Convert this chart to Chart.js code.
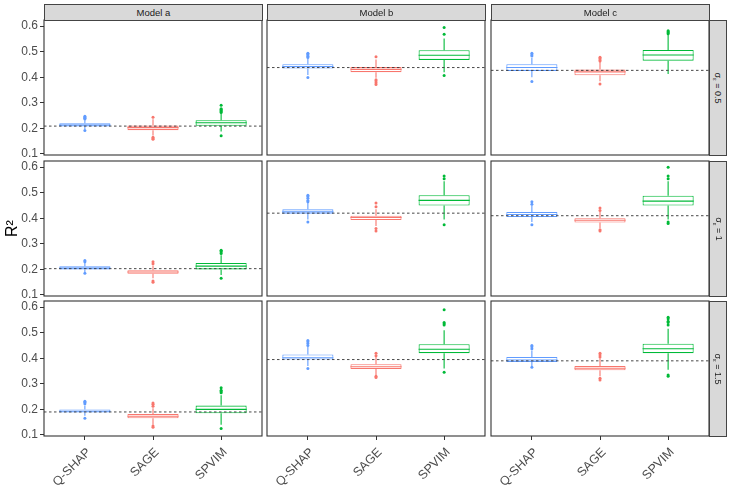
<!DOCTYPE html>
<html><head><meta charset="utf-8">
<script src="https://cdn.jsdelivr.net/npm/chart.js@4"></script>
<style>
body{margin:0;background:#fff;width:731px;height:491px;overflow:hidden;position:relative;font-family:"Liberation Sans",Arial,sans-serif;}
canvas{position:absolute;}
.strip{position:absolute;background:#d9d9d9;border:1px solid #444;box-sizing:border-box;color:#1a1a1a;font-size:9.5px;display:flex;align-items:center;justify-content:center;z-index:2;}
.rot{transform:rotate(90deg);white-space:nowrap;font-size:9px;}
</style></head><body>
<script>
const methods = ['Q-SHAP', 'SAGE', 'SPVIM'];
const models = ['Model a', 'Model b', 'Model c'];
const sigmas = ['0.5', '1', '1.5'];
const colors = ['#619CFF', '#F8766D', '#00BA38'];
const yTicks = [0.1, 0.2, 0.3, 0.4, 0.5, 0.6];

// panels listed row by row (sigma 0.5, 1, 1.5), each row Model a, b, c
const refLines = [0.209, 0.438, 0.427, 0.203, 0.420, 0.410, 0.190, 0.395, 0.390];

// [lower whisker, Q1, median, Q3, upper whisker]
const qshapBoxes = [
  [0.197, 0.207, 0.213, 0.220, 0.232], [0.409, 0.434, 0.442, 0.451, 0.472], [0.400, 0.425, 0.438, 0.451, 0.475],
  [0.190, 0.200, 0.205, 0.212, 0.225], [0.395, 0.418, 0.425, 0.435, 0.460], [0.385, 0.405, 0.415, 0.425, 0.450],
  [0.175, 0.188, 0.193, 0.200, 0.215], [0.370, 0.395, 0.402, 0.415, 0.445], [0.370, 0.385, 0.393, 0.405, 0.430]
];
const sageBoxes = [
  [0.172, 0.193, 0.203, 0.211, 0.236], [0.398, 0.420, 0.431, 0.440, 0.470], [0.384, 0.408, 0.421, 0.430, 0.460],
  [0.165, 0.183, 0.190, 0.197, 0.215], [0.370, 0.393, 0.403, 0.410, 0.435], [0.362, 0.383, 0.392, 0.400, 0.425],
  [0.140, 0.165, 0.173, 0.182, 0.205], [0.335, 0.358, 0.367, 0.377, 0.405], [0.330, 0.353, 0.361, 0.370, 0.400]
];
const spvimBoxes = [
  [0.188, 0.210, 0.222, 0.232, 0.258], [0.420, 0.468, 0.486, 0.506, 0.552], [0.413, 0.465, 0.487, 0.507, 0.568],
  [0.178, 0.200, 0.213, 0.225, 0.255], [0.395, 0.450, 0.470, 0.490, 0.545], [0.395, 0.450, 0.467, 0.488, 0.545],
  [0.140, 0.185, 0.200, 0.215, 0.255], [0.360, 0.420, 0.435, 0.455, 0.510], [0.355, 0.420, 0.437, 0.457, 0.515]
];
const qshapOutliers = [
  [0.237, 0.240, 0.244, 0.248, 0.192], [0.477, 0.482, 0.487, 0.491, 0.494, 0.399], [0.483, 0.488, 0.494, 0.383],
  [0.230, 0.235, 0.185], [0.465, 0.470, 0.478, 0.485, 0.490, 0.385], [0.455, 0.465, 0.375],
  [0.222, 0.228, 0.232, 0.165], [0.450, 0.458, 0.465, 0.470, 0.360], [0.437, 0.445, 0.450, 0.365]
];
const sageOutliers = [
  [0.244, 0.165, 0.161, 0.158], [0.480, 0.390, 0.385, 0.379, 0.372], [0.464, 0.468, 0.473, 0.478, 0.374],
  [0.222, 0.230, 0.155, 0.150], [0.445, 0.460, 0.360, 0.350], [0.430, 0.440, 0.355, 0.350],
  [0.212, 0.220, 0.225, 0.135, 0.130], [0.410, 0.420, 0.330, 0.325], [0.405, 0.413, 0.420, 0.322, 0.315]
];
const spvimOutliers = [
  [0.262, 0.266, 0.270, 0.274, 0.277, 0.291, 0.171], [0.568, 0.595, 0.407], [0.570, 0.574, 0.578, 0.582],
  [0.262, 0.268, 0.272, 0.275, 0.165], [0.555, 0.565, 0.375], [0.555, 0.565, 0.600, 0.385, 0.380],
  [0.265, 0.270, 0.275, 0.285, 0.125], [0.530, 0.535, 0.540, 0.590, 0.345], [0.530, 0.540, 0.545, 0.555, 0.560, 0.335, 0.330]
];

const colX = [44, 267, 491], colW = 218;
const rowY = [20, 161, 301], rowH = 135;

const borderPlugin = {
  id: 'panelBorder',
  afterDatasetsDraw(chart) {
    const a = chart.chartArea, ctx = chart.ctx;
    ctx.save();
    ctx.strokeStyle = '#333';
    ctx.lineWidth = 1.1;
    ctx.strokeRect(a.left, a.top, a.right - a.left, a.bottom - a.top);
    ctx.restore();
  }
};

function makePanel(r, c) {
  const p = r * 3 + c;
  const left = c === 0 ? 0 : colX[c] - 2;
  const top = rowY[r] - 2;
  const right = colX[c] + colW + 2;
  const bottom = r === 2 ? 491 : rowY[r] + rowH + 2;
  const cv = document.createElement('canvas');
  cv.width = right - left; cv.height = bottom - top;
  cv.style.left = left + 'px'; cv.style.top = top + 'px';
  cv.style.width = (right - left) + 'px'; cv.style.height = (bottom - top) + 'px';
  document.body.appendChild(cv);

  const boxes = [qshapBoxes[p], sageBoxes[p], spvimBoxes[p]];
  const outs = [qshapOutliers[p], sageOutliers[p], spvimOutliers[p]];
  const datasets = [];
  datasets.push({type: 'line', data: [{x: 0.4, y: refLines[p]}, {x: 3.6, y: refLines[p]}],
    borderColor: '#333', borderWidth: 0.9, borderDash: [2.5, 2.5], pointRadius: 0});
  const outData = [], outColors = [];
  outs.forEach((o, i) => o.forEach(v => { outData.push({x: i + 1, y: v}); outColors.push(colors[i]); }));
  datasets.push({type: 'scatter', data: outData, backgroundColor: outColors, pointRadius: 1.5, borderWidth: 0, pointHoverRadius: 1.5});
  boxes.forEach((b, i) => {
    const x = i + 1;
    const common = {type: 'line', borderColor: colors[i], borderWidth: 1.1, pointRadius: 0};
    datasets.push(Object.assign({data: [{x: x - 0.375, y: b[2]}, {x: x + 0.375, y: b[2]}]}, common));
    datasets.push(Object.assign({data: [{x: x, y: b[0]}, {x: x, y: b[1]}]}, common));
    datasets.push(Object.assign({data: [{x: x, y: b[3]}, {x: x, y: b[4]}]}, common));
  });
  datasets.push({type: 'bar', data: boxes.map((b, i) => ({x: i + 1, y: [b[1], b[3]]})),
    backgroundColor: '#ffffff', borderColor: colors, borderWidth: 1.1, borderSkipped: false,
    barPercentage: 0.75, categoryPercentage: 1});

  const showX = r === 2, showY = c === 0;
  new Chart(cv, {
    type: 'bar',
    data: {datasets},
    plugins: [borderPlugin],
    options: {
      responsive: false, maintainAspectRatio: false, animation: false, events: [],
      layout: {padding: {left: showY ? 0 : 2, right: 2, top: 2, bottom: showX ? 0 : 2}},
      plugins: {legend: {display: false}, tooltip: {enabled: false}},
      scales: {
        x: {
          type: 'linear', min: 0.4, max: 3.6, display: showX, offset: false,
          afterBuildTicks: s => { s.ticks = [1, 2, 3].map(v => ({value: v})); },
          afterFit: s => { if (showX) s.height = 55; s.paddingLeft = 0; s.paddingRight = 0; },
          ticks: {callback: v => methods[v - 1], minRotation: 45, maxRotation: 45, autoSkip: false,
            color: '#4d4d4d', font: {family: 'Liberation Sans', size: 12.5}, padding: 5, labelOffset: 4},
          grid: {offset: false, drawOnChartArea: false, drawTicks: true, tickLength: 4, color: '#333'},
          border: {display: false}
        },
        y: {
          type: 'linear', min: 0.096, max: 0.624, display: showY,
          afterBuildTicks: s => { s.ticks = yTicks.map(v => ({value: v})); },
          afterFit: s => { if (showY) s.width = 44; s.paddingTop = 0; s.paddingBottom = 0; },
          ticks: {callback: v => v.toFixed(1), autoSkip: false, color: '#4d4d4d', font: {family: 'Liberation Sans', size: 12}, padding: 2},
          grid: {drawOnChartArea: false, drawTicks: true, tickLength: 4, color: '#333'},
          border: {display: false},
          title: {display: r === 1 && c === 0, text: 'R²', color: '#000',
            font: {family: 'Liberation Sans', size: 16}, padding: {top: 3, bottom: 0}}
        }
      }
    }
  });
}

for (let r = 0; r < 3; r++) for (let c = 0; c < 3; c++) makePanel(r, c);

models.forEach((m, c) => {
  const d = document.createElement('div');
  d.className = 'strip';
  d.style.left = colX[c] + 'px'; d.style.top = '4px';
  d.style.width = (colW + 1) + 'px'; d.style.height = '17px';
  d.textContent = m;
  document.body.appendChild(d);
});
sigmas.forEach((s, r) => {
  const d = document.createElement('div');
  d.className = 'strip';
  d.style.left = (colX[2] + colW) + 'px'; d.style.top = rowY[r] + 'px';
  d.style.width = '18px'; d.style.height = (rowH + 1) + 'px';
  d.innerHTML = '<span class="rot">σ<sub style="font-size:6px">ε</sub> = ' + s + '</span>';
  document.body.appendChild(d);
});
</script>
</body></html>
